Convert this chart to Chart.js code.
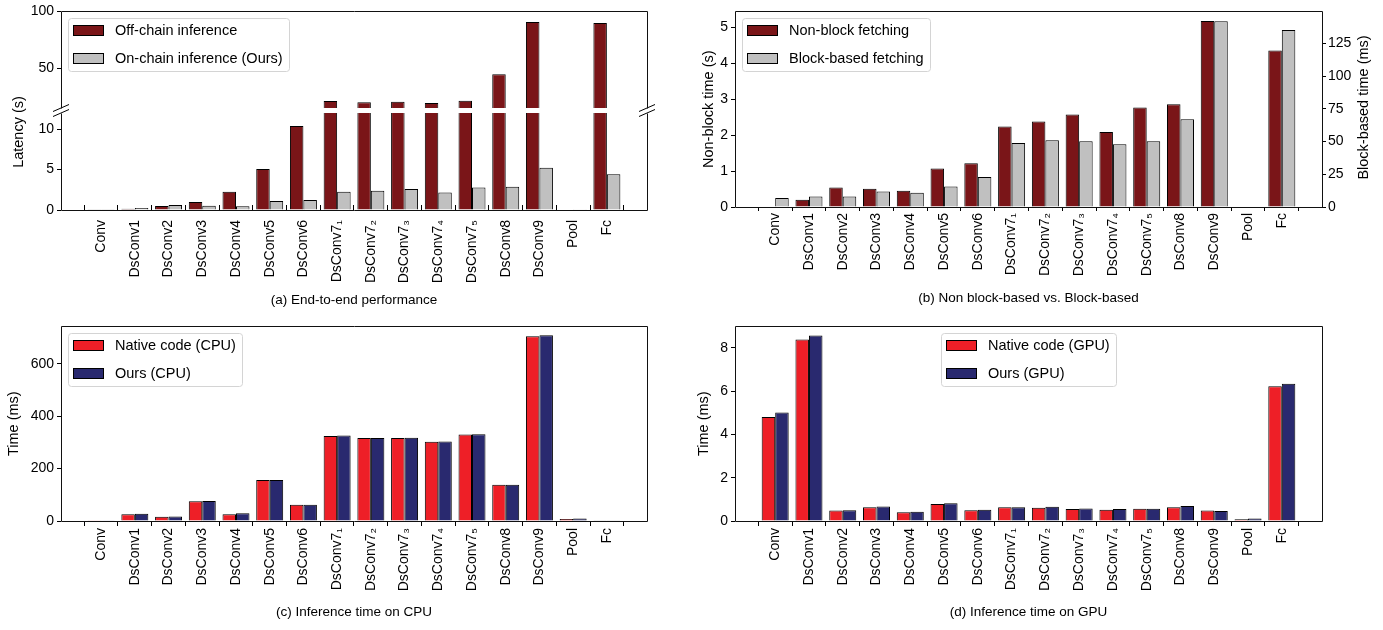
<!DOCTYPE html>
<html>
<head>
<meta charset="utf-8">
<script src="https://cdn.jsdelivr.net/npm/chart.js@4/dist/chart.umd.min.js"></script>
<style>
  html, body { margin: 0; padding: 0; background: #fff; }
  #fig { position: relative; width: 1383px; height: 630px; overflow: hidden; background: #fff; }
  #fig canvas { position: absolute; }
</style>
</head>
<body>
<div id="fig">
  <canvas id="aLow" width="690" height="315" style="left:0;top:0"></canvas>
  <canvas id="aUp" width="690" height="120" style="left:0;top:0"></canvas>
  <canvas id="b" width="693" height="315" style="left:690px;top:0"></canvas>
  <canvas id="c" width="690" height="315" style="left:0;top:315px"></canvas>
  <canvas id="d" width="693" height="315" style="left:690px;top:315px"></canvas>
</div>
<script>
const layers = ['Conv', 'DsConv1', 'DsConv2', 'DsConv3', 'DsConv4', 'DsConv5', 'DsConv6',
  'DsConv7\u2081', 'DsConv7\u2082', 'DsConv7\u2083', 'DsConv7\u2084', 'DsConv7\u2085',
  'DsConv8', 'DsConv9', 'Pool', 'Fc'];

// (a) end-to-end latency, seconds
const seriesA = ['Off-chain inference', 'On-chain inference (Ours)'];
const offChain = [0.08, 0.15, 0.5, 0.99, 2.27, 5.08, 10.4, 21.1, 20.0, 20.5, 19.3, 21.3, 44.8, 90.7, 0.06, 89.9];
const onChain = [0.04, 0.25, 0.62, 0.53, 0.46, 1.1, 1.24, 2.27, 2.39, 2.6, 2.15, 2.77, 2.89, 5.24, 0.03, 4.42];
const ticksAUp = [50, 100];
const ticksALow = [0, 5, 10];

// (b) fetching, non-block in s, block-based in ms
const seriesB = ['Non-block fetching', 'Block-based fetching'];
const nonBlock = [0, 0.2, 0.54, 0.51, 0.45, 1.07, 1.22, 2.24, 2.38, 2.58, 2.09, 2.77, 2.86, 5.18, 0, 4.36];
const blockBased = [6.8, 8.0, 8.0, 11.8, 10.9, 15.6, 23.0, 49.0, 51.1, 50.3, 48.0, 50.3, 67.0, 141.9, 0, 135.2];
const ticksBLeft = [0, 1, 2, 3, 4, 5];
const ticksBRight = [0, 25, 50, 75, 100, 125];

// (c) CPU, ms
const seriesC = ['Native code (CPU)', 'Ours (CPU)'];
const cpuNative = [3, 26, 16.6, 75.5, 26, 156, 62, 324.5, 316, 316.5, 302, 330, 138.5, 704.5, 7.5, 1];
const cpuOurs = [3, 28, 17, 76.7, 30, 156, 62, 325.8, 316, 317, 303.5, 331, 138.5, 708, 10, 1];
const ticksC = [0, 200, 400, 600];

// (d) GPU, ms
const seriesD = ['Native code (GPU)', 'Ours (GPU)'];
const gpuNative = [4.8, 8.38, 0.48, 0.64, 0.41, 0.79, 0.5, 0.63, 0.61, 0.55, 0.52, 0.57, 0.63, 0.48, 0.08, 6.23];
const gpuOurs = [5.01, 8.57, 0.5, 0.67, 0.43, 0.82, 0.52, 0.63, 0.66, 0.58, 0.55, 0.57, 0.69, 0.46, 0.12, 6.34];
const ticksD = [0, 2, 4, 6, 8];

const DARKRED = '#7a1518';
const SILVER = '#c0c0c0';
const RED = '#ee1f27';
const NAVY = '#29296f';
const FONT = "'Liberation Sans', Arial, Helvetica, 'DejaVu Sans', sans-serif";
const TICK_SIZE = 14;
const TITLE_SIZE = 14.5;
const CAPTION_SIZE = 13.5;

Chart.defaults.font.family = FONT;
Chart.defaults.font.size = TICK_SIZE;
Chart.defaults.color = '#000';
Chart.defaults.animation = false;

// x range like matplotlib's default margins around 16 grouped bars
const XMIN = -1.19, XMAX = 16.19;

function bars(label, vals, color, axis) {
  return {
    label: label,
    data: vals.map((v, i) => ({ x: i, y: v })),
    backgroundColor: color,
    borderColor: '#000',
    borderWidth: 1,
    categoryPercentage: 0.8,
    barPercentage: 1,
    yAxisID: axis || 'y'
  };
}

function tickGrid(len) {
  return { display: true, drawOnChartArea: false, drawTicks: true, tickLength: len, color: '#000', lineWidth: 1 };
}

function xAxis(show, height, tickLen, pad, caption, captionPad) {
  return {
    type: 'linear', min: XMIN, max: XMAX, offset: false, display: show,
    afterBuildTicks: s => { s.ticks = layers.map((_, i) => ({ value: i })); },
    afterFit: s => { s.height = height; },
    border: { display: false },
    grid: tickGrid(tickLen),
    ticks: { autoSkip: false, maxRotation: 90, minRotation: 90, padding: pad, callback: v => layers[v] },
    title: { display: !!caption, text: caption, font: { size: CAPTION_SIZE }, padding: { top: 0, bottom: captionPad } }
  };
}

function yAxis(min, max, ticks, width, pos, title, titlePad, pad) {
  return {
    type: 'linear', position: pos, min: min, max: max,
    afterBuildTicks: s => { s.ticks = ticks.map(v => ({ value: v })); },
    afterFit: s => { s.width = width; },
    border: { display: false },
    grid: tickGrid(4),
    ticks: { padding: pad },
    title: { display: !!title, text: title, font: { size: TITLE_SIZE }, padding: { top: titlePad, bottom: 0 } }
  };
}

// axes box (spines)
const frame = {
  id: 'frame',
  afterDatasetsDraw(chart, args, o) {
    const { ctx, chartArea: a } = chart;
    const al = p => Math.round(p - 0.5) + 0.5;
    const l = al(a.left), r = al(a.right), t = al(a.top), b = al(a.bottom);
    const sides = o.sides || 'ltrb';
    ctx.save();
    ctx.strokeStyle = '#111';
    ctx.lineWidth = 1;
    ctx.beginPath();
    if (sides.includes('l')) { ctx.moveTo(l, t); ctx.lineTo(l, b); }
    if (sides.includes('r')) { ctx.moveTo(r, t); ctx.lineTo(r, b); }
    if (sides.includes('t')) { ctx.moveTo(l, t); ctx.lineTo(r, t); }
    if (sides.includes('b')) { ctx.moveTo(l, b); ctx.lineTo(r, b); }
    ctx.stroke();
    ctx.restore();
  }
};

// matplotlib-like legend box inside the axes
const boxLegend = {
  id: 'boxLegend',
  afterDraw(chart, args, o) {
    if (!o.show) return;
    const { ctx, chartArea: a } = chart;
    const ds = chart.data.datasets;
    ctx.save();
    ctx.font = TITLE_SIZE + 'px ' + FONT;
    const tw = Math.max(...ds.map(d => ctx.measureText(d.label).width));
    const w = Math.round(47 + tw + 6), h = 53;
    const x = Math.round(o.center ? (a.left + a.right) / 2 - w / 2 : a.left + 7);
    const y = Math.round(a.top + 7);
    ctx.beginPath();
    if (ctx.roundRect) ctx.roundRect(x + 0.5, y + 0.5, w, h, 3); else ctx.rect(x + 0.5, y + 0.5, w, h);
    ctx.fillStyle = 'rgba(255,255,255,0.8)';
    ctx.fill();
    ctx.strokeStyle = '#d4d4d4';
    ctx.lineWidth = 1;
    ctx.stroke();
    ds.forEach((d, i) => {
      const cy = y + 12 + i * 28;
      ctx.fillStyle = d.backgroundColor;
      ctx.fillRect(x + 5, cy - 5, 31, 10);
      ctx.strokeStyle = '#000';
      ctx.strokeRect(x + 5.5, cy - 4.5, 30, 10);
      ctx.fillStyle = '#000';
      ctx.textBaseline = 'middle';
      ctx.textAlign = 'left';
      ctx.fillText(d.label, x + 47, cy + 0.5);
    });
    ctx.restore();
  }
};

// free texts (axis labels that sit off the default spot)
const freeText = {
  id: 'freeText',
  afterDraw(chart, args, o) {
    const ctx = chart.ctx;
    (o.items || []).forEach(t => {
      ctx.save();
      ctx.font = TITLE_SIZE + 'px ' + FONT;
      ctx.fillStyle = '#000';
      ctx.textAlign = 'center';
      ctx.textBaseline = 'middle';
      ctx.translate(t.x, t.y);
      ctx.rotate(t.rot || 0);
      ctx.fillText(t.text, 0, 0);
      ctx.restore();
    });
  }
};

// diagonal marks of the broken y axis
const breakMarks = {
  id: 'breakMarks',
  afterDraw(chart, args, o) {
    if (!o.ys) return;
    const { ctx, chartArea: a } = chart;
    ctx.save();
    ctx.strokeStyle = '#000';
    ctx.lineWidth = 1;
    ctx.beginPath();
    [a.left, a.right].forEach(x => {
      o.ys.forEach(y => {
        ctx.moveTo(x - 8, y + 3.5);
        ctx.lineTo(x + 8, y - 3.5);
      });
    });
    ctx.stroke();
    ctx.restore();
  }
};

const basePlugins = { legend: { display: false }, tooltip: { enabled: false } };

// (a) lower part
new Chart(document.getElementById('aLow'), {
  type: 'bar',
  data: { datasets: [bars(seriesA[0], offChain, DARKRED), bars(seriesA[1], onChain, SILVER)] },
  options: {
    responsive: false, devicePixelRatio: 1, animation: false,
    layout: { padding: { left: 0, top: 113, right: 43, bottom: 0 } },
    scales: {
      x: xAxis(true, 105, -5, 15, '(a) End-to-end performance', 7),
      y: yAxis(0, 12, ticksALow, 61, 'left', '', 0, 3)
    },
    plugins: Object.assign({}, basePlugins, {
      frame: { sides: 'lbr' },
      freeText: { items: [{ text: 'Latency (s)', x: 18.5, y: 132, rot: -Math.PI / 2 }] },
      breakMarks: { ys: [108, 113] }
    })
  },
  plugins: [frame, freeText, breakMarks]
});

// (a) upper part
new Chart(document.getElementById('aUp'), {
  type: 'bar',
  data: { datasets: [bars(seriesA[0], offChain, DARKRED), bars(seriesA[1], onChain, SILVER)] },
  options: {
    responsive: false, devicePixelRatio: 1, animation: false,
    layout: { padding: { left: 0, top: 10, right: 43, bottom: 12 } },
    scales: {
      x: xAxis(false, 0, 4, 3, '', 0),
      y: yAxis(15, 100, ticksAUp, 61, 'left', '', 0, 3)
    },
    plugins: Object.assign({}, basePlugins, {
      frame: { sides: 'ltr' },
      boxLegend: { show: true }
    })
  },
  plugins: [frame, boxLegend]
});

// (b)
new Chart(document.getElementById('b'), {
  type: 'bar',
  data: { datasets: [bars(seriesB[0], nonBlock, DARKRED, 'y'), bars(seriesB[1], blockBased, SILVER, 'y1')] },
  options: {
    responsive: false, devicePixelRatio: 1, animation: false,
    layout: { padding: { left: 0, top: 10, right: 0, bottom: 0 } },
    scales: {
      x: xAxis(true, 108, 4, 2, '(b) Non block-based vs. Block-based', 9),
      y: yAxis(0, 5.45, ticksBLeft, 45, 'left', 'Non-block time (s)', 10, 3),
      y1: yAxis(0, 149.5, ticksBRight, 61, 'right', '', 0, 2)
    },
    plugins: Object.assign({}, basePlugins, {
      frame: { sides: 'ltrb' },
      boxLegend: { show: true },
      freeText: { items: [{ text: 'Block-based time (ms)', x: 674, y: 107.5, rot: -Math.PI / 2 }] }
    })
  },
  plugins: [frame, boxLegend, freeText]
});

// (c)
new Chart(document.getElementById('c'), {
  type: 'bar',
  data: { datasets: [bars(seriesC[0], cpuNative, RED), bars(seriesC[1], cpuOurs, NAVY)] },
  options: {
    responsive: false, devicePixelRatio: 1, animation: false,
    layout: { padding: { left: 0, top: 9, right: 43, bottom: 0 } },
    scales: {
      x: xAxis(true, 109, 5, 2, '(c) Inference time on CPU', 10),
      y: yAxis(0, 742, ticksC, 61, 'left', 'Time (ms)', 5, 3)
    },
    plugins: Object.assign({}, basePlugins, {
      frame: { sides: 'ltrb' },
      boxLegend: { show: true }
    })
  },
  plugins: [frame, boxLegend]
});

// (d)
new Chart(document.getElementById('d'), {
  type: 'bar',
  data: { datasets: [bars(seriesD[0], gpuNative, RED), bars(seriesD[1], gpuOurs, NAVY)] },
  options: {
    responsive: false, devicePixelRatio: 1, animation: false,
    layout: { padding: { left: 0, top: 9, right: 61, bottom: 0 } },
    scales: {
      x: xAxis(true, 109, 5, 2, '(d) Inference time on GPU', 10),
      y: yAxis(0, 8.99, ticksD, 45, 'left', 'Time (ms)', 5, 3)
    },
    plugins: Object.assign({}, basePlugins, {
      frame: { sides: 'ltrb' },
      boxLegend: { show: true, center: true }
    })
  },
  plugins: [frame, boxLegend]
});
</script>
</body>
</html>
